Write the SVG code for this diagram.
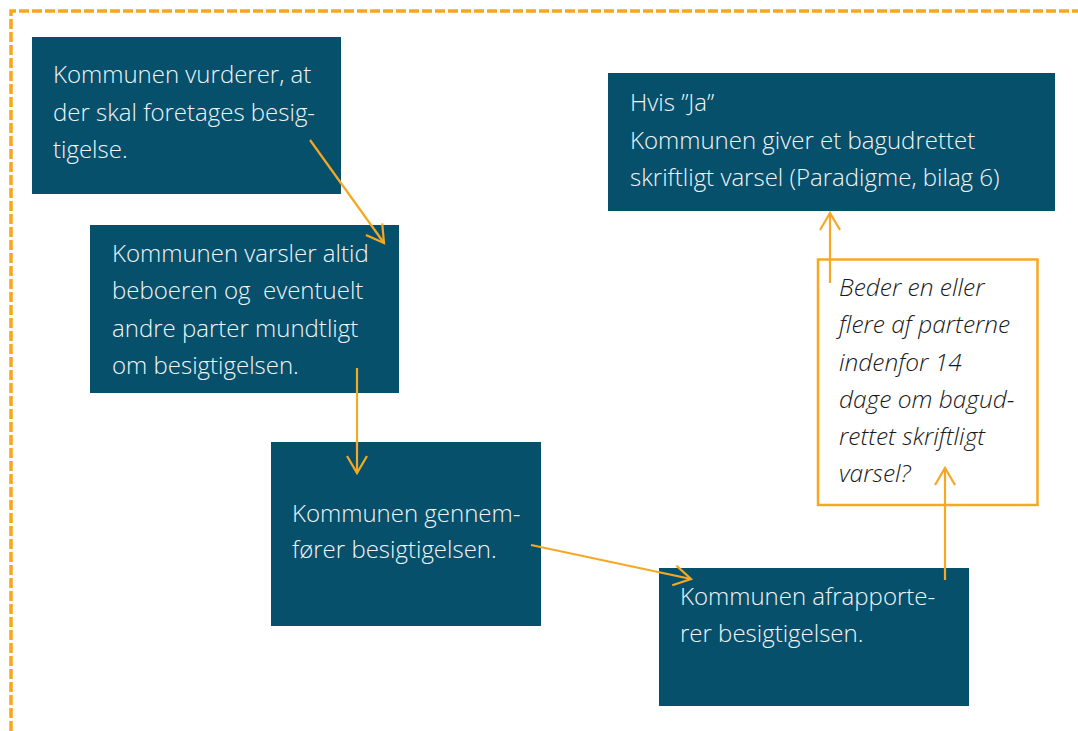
<svg xmlns="http://www.w3.org/2000/svg" width="1078" height="731" viewBox="0 0 1078 731">
<style>
.box{fill:#06506B}
.t{font-family:"Open Sans","Noto Sans",sans-serif;font-size:24px;fill:#F1F5F7;font-weight:300;white-space:pre}
.q{font-family:"Open Sans","Noto Sans",sans-serif;font-size:24.5px;fill:#1A1A1A;font-style:italic;font-weight:300}
.c{stroke:#F7A823;stroke-width:2.2;fill:none}
</style>
<defs>
<marker id="ah" markerUnits="userSpaceOnUse" markerWidth="24" markerHeight="24" viewBox="-20 -12 22 24" refX="0" refY="0" orient="auto">
<path d="M-17,-10 L0,0 L-17,10" fill="none" stroke="#F7A823" stroke-width="2.2"/>
</marker>
</defs>
<rect width="1078" height="731" fill="#FFFFFF"/>
<path d="M11,731 L11,11 L1078,11" fill="none" stroke="#FAA61A" stroke-width="3.5" stroke-dasharray="10 3"/>
<g id="n1">
<rect class="box" x="32" y="37" width="309" height="157"/>
<text class="t"><tspan x="53" y="83">Kommunen vurderer, at</tspan><tspan x="53" y="121">der skal foretages besig-</tspan><tspan x="53" y="158">tigelse.</tspan></text>
</g>
<g id="n2">
<rect class="box" x="90" y="225" width="309" height="168"/>
<text class="t"><tspan x="112" y="262">Kommunen varsler altid</tspan><tspan x="112" y="299">beboeren og  eventuelt</tspan><tspan x="112" y="337">andre parter mundtligt</tspan><tspan x="112" y="374">om besigtigelsen.</tspan></text>
</g>
<g id="n3">
<rect class="box" x="271" y="442" width="270" height="184"/>
<text class="t"><tspan x="292" y="522">Kommunen gennem-</tspan><tspan x="292" y="558">fører besigtigelsen.</tspan></text>
</g>
<g id="n4">
<rect class="box" x="659" y="568" width="310" height="138"/>
<text class="t"><tspan x="680" y="605">Kommunen afrapporte-</tspan><tspan x="680" y="642">rer besigtigelsen.</tspan></text>
</g>
<g id="n5">
<rect class="box" x="608" y="73" width="447" height="138"/>
<text class="t"><tspan x="630" y="111">Hvis ”Ja”</tspan><tspan x="630" y="149">Kommunen giver et bagudrettet</tspan><tspan x="630" y="186">skriftligt varsel (Paradigme, bilag 6)</tspan></text>
</g>
<g id="n6">
<rect x="818" y="259.5" width="219.5" height="245.5" fill="#FFFFFF" stroke="#F7A823" stroke-width="2.5"/>
<text class="q"><tspan x="839" y="296">Beder en eller</tspan><tspan x="839" y="333">flere af parterne</tspan><tspan x="839" y="371">indenfor 14</tspan><tspan x="839" y="408">dage om bagud-</tspan><tspan x="839" y="445">rettet skriftligt</tspan><tspan x="839" y="482">varsel?</tspan></text>
</g>
<g id="connectors">
<path class="c" d="M310,140 L384,243" marker-end="url(#ah)"/>
<path class="c" d="M357,368 L357,473" marker-end="url(#ah)"/>
<path class="c" d="M531,545 L691,579" marker-end="url(#ah)"/>
<path class="c" d="M945,580 L945,468" marker-end="url(#ah)"/>
<path class="c" d="M830,283 L830,213" marker-end="url(#ah)"/>
</g>
</svg>
